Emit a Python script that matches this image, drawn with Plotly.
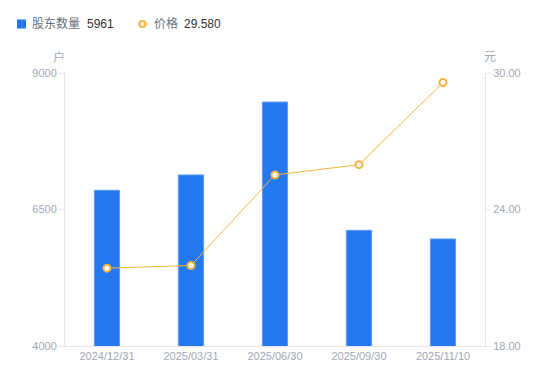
import plotly.graph_objects as go

categories = ["2024/12/31", "2025/03/31", "2025/06/30", "2025/09/30", "2025/11/10"]
holders = [6852, 7133, 8468, 6118, 5961]
price = [21.42, 21.54, 25.52, 25.97, 29.58]
left_ticks = [4000, 6500, 9000]
right_ticks = [18, 24, 30]

W, H = 550, 381
L, R, T, B = 65, 65, 73, 35
pw, ph = W - L - R, H - T - B

def px(x):
    return (x - L) / pw

def py(y):
    return (H - B - y) / ph

BLUE = "#2478f2"
ORANGE = "#f8b23c"
GREY = "#a3a7b3"
FONT = "Liberation Sans, Noto Sans CJK SC, sans-serif"

fig = go.Figure()
fig.add_trace(go.Bar(
    x=categories, y=holders, name="股东数量", width=0.3,
    marker=dict(color=BLUE, line=dict(color="#5e9cf6", width=1)),
    yaxis="y", showlegend=False, hoverinfo="skip",
))
fig.add_trace(go.Scatter(
    x=categories, y=price, name="价格", mode="lines+markers",
    line=dict(color=ORANGE, width=1),
    marker=dict(symbol="circle", size=7, color="white", line=dict(color=ORANGE, width=2)),
    yaxis="y2", showlegend=False, hoverinfo="skip",
))

fig.update_layout(
    width=W, height=H,
    margin=dict(l=L, r=R, t=T, b=B),
    plot_bgcolor="white", paper_bgcolor="white",
    font=dict(family=FONT, color=GREY, size=11),
    xaxis=dict(
        showline=True, linecolor="#e3e5ea", linewidth=1,
        ticks="", showgrid=False, tickfont=dict(size=11, color=GREY),
        automargin=False,
    ),
    yaxis=dict(
        range=[4000, 9000], tickvals=left_ticks, showgrid=False, zeroline=False,
        showline=True, linecolor="#e3e5ea", ticks="outside", ticklen=5,
        tickcolor="#e3e5ea", tickfont=dict(size=11, color=GREY), automargin=False,
    ),
    yaxis2=dict(
        range=[18, 30], tickvals=right_ticks, tickformat=".2f", overlaying="y",
        side="right", showgrid=False, zeroline=False,
        showline=True, linecolor="#e3e5ea", ticks="outside", ticklen=5,
        tickcolor="#e3e5ea", tickfont=dict(size=11, color=GREY), automargin=False,
    ),
)

ann = [
    dict(text="户", x=px(59), y=py(57)),
    dict(text="元", x=px(490), y=py(57)),
]
for a in ann:
    fig.add_annotation(xref="paper", yref="paper", showarrow=False,
                       xanchor="center", yanchor="middle",
                       font=dict(size=12, color=GREY), **a)

# manual legend
fig.add_shape(type="rect", xref="paper", yref="paper",
              x0=px(17), x1=px(26), y0=py(28.5), y1=py(19.5),
              fillcolor=BLUE, line=dict(width=0))
fig.add_shape(type="line", xref="paper", yref="paper",
              x0=px(137.5), x1=px(147.5), y0=py(24), y1=py(24),
              line=dict(color=ORANGE, width=1.5))
fig.add_shape(type="circle", xref="paper", yref="paper",
              x0=px(139.5), x1=px(145.5), y0=py(27), y1=py(21),
              fillcolor="white", line=dict(color=ORANGE, width=2))
legend_texts = [
    ("股东数量", 30, "#6b6f7a"),
    ("5961", 85, "#333333"),
    ("价格", 152, "#6b6f7a"),
    ("29.580", 182, "#333333"),
]
for txt, xx, col in legend_texts:
    fig.add_annotation(xref="paper", yref="paper", showarrow=False,
                       x=px(xx), y=py(24), xanchor="left", yanchor="middle",
                       text=txt, font=dict(size=12, color=col))

fig.write_html("out.html", config={"displayModeBar": False},
               post_script="document.body.style.margin='0';")
